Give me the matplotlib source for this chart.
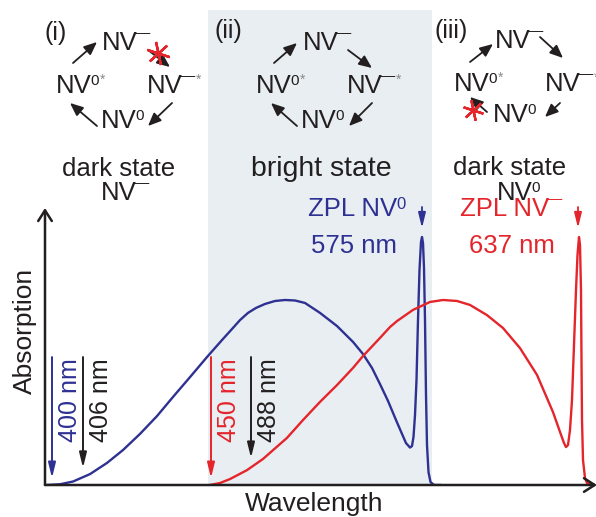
import matplotlib
matplotlib.use('Agg')
import matplotlib.pyplot as plt

plt.rcParams['font.family'] = ['Liberation Sans', 'DejaVu Sans']

# ---------------- data (schematic wavelength position, normalised absorption) -------------
nv0_pos = [2, 15, 28, 45, 62, 78, 95, 112, 128, 145,
           162, 178, 187, 195, 203, 211, 220, 230, 240, 250,
           260, 275, 292, 308, 318, 327, 335, 343, 351, 357,
           361, 365, 367, 368.5, 370, 371.5, 373, 374.5, 376, 377,
           378, 379, 380, 381, 382, 383.5, 385.5, 389, 395]
nv0_abs = [0, 0.003, 0.014, 0.044, 0.089, 0.141, 0.206, 0.278, 0.355, 0.435,
           0.516, 0.589, 0.629, 0.665, 0.694, 0.714, 0.730, 0.742, 0.746, 0.744,
           0.734, 0.694, 0.641, 0.577, 0.528, 0.472, 0.407, 0.339, 0.262, 0.206,
           0.169, 0.151, 0.157, 0.194, 0.282, 0.423, 0.665, 0.867, 0.980, 1.0,
           0.976, 0.875, 0.665, 0.363, 0.161, 0.052, 0.012, 0, 0]
nvm_pos = [165, 175, 185, 202, 218, 242, 258, 275, 292, 308,
           318, 335, 345, 352, 368, 385, 398, 412, 425, 442,
           458, 475, 492, 508, 515, 519, 521, 523, 525, 527,
           529, 531, 532.5, 534, 535, 536, 536.5, 537, 538, 540,
           542, 548]
nvm_abs = [0, 0.008, 0.024, 0.060, 0.105, 0.190, 0.262, 0.335, 0.403, 0.472,
           0.520, 0.593, 0.637, 0.661, 0.706, 0.738, 0.746, 0.742, 0.726, 0.685,
           0.633, 0.552, 0.444, 0.294, 0.214, 0.169, 0.153, 0.161, 0.222, 0.343,
           0.565, 0.786, 0.927, 1.0, 0.968, 0.786, 0.504, 0.262, 0.101, 0.028,
           0.008, 0]

laser_labels = ['400 nm', '406 nm', '450 nm', '488 nm']
laser_pos = [7, 38, 166, 206]
laser_tip = [0.028, 0.069, 0.028, 0.109]
laser_top = 0.516

zpl_pos = [377, 533]
zpl_text = [('ZPL NV', '0', '575 nm'), ('ZPL NV', '-', '637 nm')]

bright_span = (163, 387)

# ---------------- styles -----------------
BLUE = '#2e3192'
RED = '#e4252b'
INK = '#231f20'
SHADE = '#e8eef1'
GRAY = '#8a8a8a'

W, H = 596, 517
fig = plt.figure(figsize=(W / 100, H / 100), dpi=100)

ax = fig.add_axes([45 / W, (H - 485) / H, (W - 45) / W, (485 - 10) / H])
ax.set_xlim(0, W - 45)
ax.set_ylim(0, (485 - 10) / 248)
for s in ax.spines.values():
    s.set_visible(False)
ax.set_xticks([])
ax.set_yticks([])
ax.patch.set_visible(False)

ax.axvspan(*bright_span, color=SHADE, zorder=0, lw=0)

ax.plot(nv0_pos, nv0_abs, color=BLUE, lw=1.7, zorder=3, solid_joinstyle='round')
ax.plot(nvm_pos, nvm_abs, color=RED, lw=1.7, zorder=3, solid_joinstyle='round')

# axes arrows
ax.annotate('', xy=(0, 1.117), xytext=(0, 0), xycoords='data',
            arrowprops=dict(arrowstyle='->,head_width=0.35,head_length=0.55', lw=1.8, color=INK,
                            shrinkA=0, shrinkB=0, mutation_scale=14), annotation_clip=False)
ax.annotate('', xy=(W - 45 + 1, 0), xytext=(0, 0), xycoords='data',
            arrowprops=dict(arrowstyle='->,head_width=0.35,head_length=0.55', lw=1.8, color=INK,
                            shrinkA=0, shrinkB=0, mutation_scale=14), annotation_clip=False)

ax.text(-20, 0.62, 'Absorption', rotation=90, ha='center', va='center', fontsize=19, color=INK,
        clip_on=False)
ax.text(269, -0.075, 'Wavelength', ha='center', va='center', fontsize=19, color=INK, clip_on=False)

laser_colors = [BLUE, INK, RED, INK]
for lab, xp, tip, c in zip(laser_labels, laser_pos, laser_tip, laser_colors):
    ax.annotate('', xy=(xp, tip), xytext=(xp, laser_top),
                arrowprops=dict(arrowstyle='-|>,head_width=0.22,head_length=0.9', lw=1.4, color=c,
                                shrinkA=0, shrinkB=0, mutation_scale=10))
    ax.annotate(lab, xy=(xp, 0.173), xytext=(4.3, 0), textcoords='offset points', rotation=90,
                ha='left', va='bottom', fontsize=18, color=c)

# ZPL annotations
zpl_colors = [BLUE, RED]
zpl_line1_x = [263, 415.5]
zpl_line2_x = [266, 424]
for xp, (l1, sup, l2), c, x1, x2 in zip(zpl_pos, zpl_text, zpl_colors, zpl_line1_x, zpl_line2_x):
    ax.annotate('', xy=(xp, 1.036), xytext=(xp, 1.121),
                arrowprops=dict(arrowstyle='-|>,head_width=0.22,head_length=0.9', lw=1.3, color=c,
                                shrinkA=0, shrinkB=0, mutation_scale=10), annotation_clip=False)
    t = ax.text(x1, 1.085, l1, ha='left', va='baseline', fontsize=18.5, color=c)
    if sup == '0':
        ax.annotate('0', xy=(1, 1), xycoords=t, xytext=(-0.8, 0.3), textcoords='offset points',
                    ha='left', va='top', fontsize=12, color=c)
    else:
        ax.annotate('\u2014', xy=(1, 1), xycoords=t, xytext=(-2.0, 3.6), textcoords='offset points',
                    ha='left', va='top', fontsize=11, color=c)
    ax.text(x2, 0.935, l2, ha='left', va='baseline', fontsize=18.5, color=c)

# ---------------- overlay in pixel layout for the charge-state cycles ----------------
ov = fig.add_axes([0, 0, 1, 1])
ov.set_xlim(0, W)
ov.set_ylim(H, 0)
ov.axis('off')


def nv(x, y, sup, star=False, size=18.5, supsize=11):
    t = ov.text(x, y, 'NV', fontsize=size, ha='center', va='baseline', color=INK)
    if sup == '0':
        s = ov.annotate('0', xy=(1, 1), xycoords=t, xytext=(-0.8, 0.3), textcoords='offset points',
                        ha='left', va='top', fontsize=supsize, color=INK)
        sdy = 0
    else:
        s = ov.annotate('\u2014', xy=(1, 1), xycoords=t, xytext=(-2.0, 3.6), textcoords='offset points',
                        ha='left', va='top', fontsize=supsize, color=INK)
        sdy = -3.0
    if star:
        ov.annotate('*', xy=(1, 1), xycoords=s, xytext=(0.2, sdy + 0.5), textcoords='offset points',
                    ha='left', va='top', fontsize=supsize - 1, color=GRAY)


def arrow(p0, p1):
    ov.annotate('', xy=p1, xytext=p0,
                arrowprops=dict(arrowstyle='-|>,head_width=0.28,head_length=0.65', lw=1.3, color=INK,
                                shrinkA=0, shrinkB=0, mutation_scale=12))


diagrams = [
    dict(label='(i)', lab_xy=(45, 33),
         nodes=[(119.5, 50), (74, 93), (165, 93), (118.5, 128)],
         arrows=[((73, 63), (97, 42)), ((148, 50), (170, 67)), ((172, 103), (148, 126)), ((97, 126), (70, 103))],
         cross=(158, 53, 17),
         caption='dark state', cap_xy=(119, 176), sub=('-', 118.5, 200)),
    dict(label='(ii)', lab_xy=(215, 31),
         nodes=[(320.5, 50), (274, 93), (365, 93), (318.5, 128)],
         arrows=[((274, 63), (297, 43)), ((348, 50), (372, 68)), ((372, 103), (349, 126)), ((297, 126), (271, 103))],
         cross=None,
         caption='bright state', cap_xy=(321, 176), sub=None),
    dict(label='(iii)', lab_xy=(435, 31),
         nodes=[(512.5, 48), (472, 91), (563, 91), (511, 122)],
         arrows=[((470, 62), (493, 44)), ((540, 37), (563, 58)), ((560, 103), (545, 117)), ((487, 112), (470, 97))],
         cross=(473, 110, 15),
         caption='dark state', cap_xy=(510, 175), sub=('0', 515, 200)),
]

for d in diagrams:
    ov.text(d['lab_xy'][0], d['lab_xy'][1], d['label'], fontsize=18, ha='left', va='center', color=INK)
    (tx, ty), (lx, ly), (rx, ry), (bx, by) = d['nodes']
    nv(tx, ty, '-')
    nv(lx, ly, '0', star=True)
    nv(rx, ry, '-', star=True)
    nv(bx, by, '0')
    for p0, p1 in d['arrows']:
        arrow(p0, p1)
    if d['cross'] is not None:
        cx, cy, ms = d['cross']
        ov.plot([cx], [cy], marker=(6, 2, 12), ms=ms, mew=1.7, color=RED, zorder=5)
    fs = 20.5 if d['caption'] == 'bright state' else 18.5
    ov.text(d['cap_xy'][0], d['cap_xy'][1], d['caption'], fontsize=fs, ha='center', va='baseline', color=INK)
    if d['sub'] is not None:
        sup, sx, sy = d['sub']
        nv(sx, sy, sup)

fig.savefig('out.png', dpi=100)
